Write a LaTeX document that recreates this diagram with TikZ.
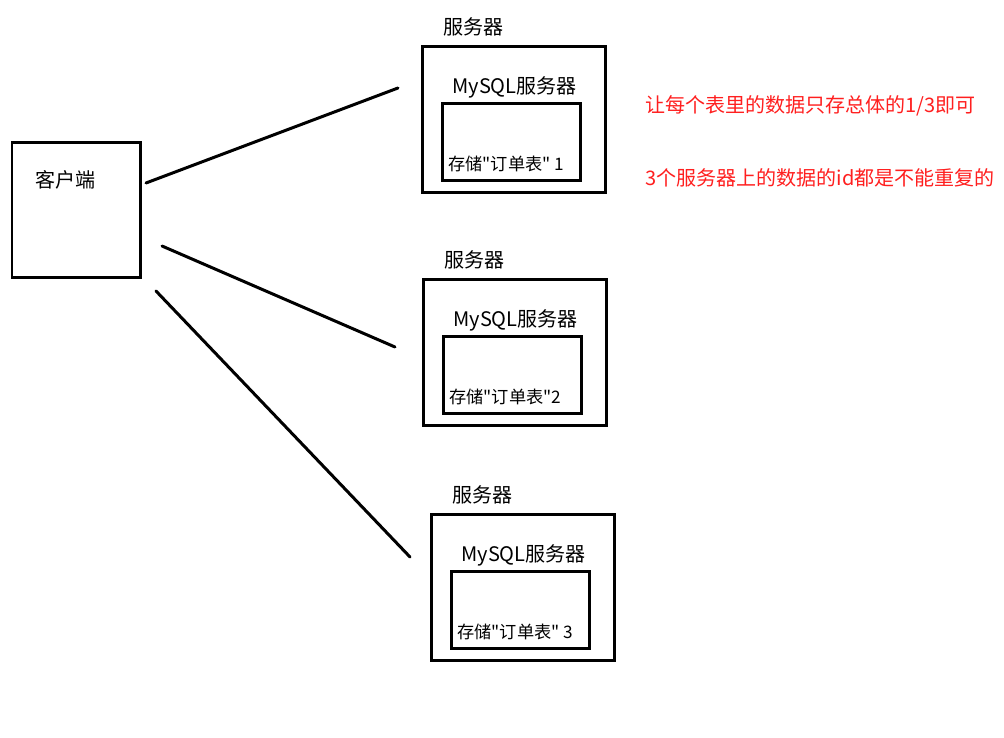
\documentclass[tikz,border=0pt]{standalone}
\usepackage{fontspec}
\newfontfamily\cjkfont{Noto Sans CJK SC}
\usetikzlibrary{fit}
\definecolor{notered}{rgb}{1.0, 0.12, 0.12}

\begin{document}
\begin{tikzpicture}[x=0.02cm,y=-0.02cm,
    box/.style={draw, line width=0.06cm, inner sep=0pt},
    link/.style={line width=0.06cm, line cap=round},
    txt/.style={inner sep=0pt, font=\cjkfont\fontsize{11.4pt}{13pt}\selectfont},
    tabletxt/.style={inner sep=0pt, font=\cjkfont\fontsize{9.8pt}{12pt}\selectfont}]
  \useasboundingbox (0,0) rectangle (1004,737);

  % client
  \node (client) [box, fit={(12,142) (140,277)}] {};
  \node (clientlabel) [txt, anchor=west] at (35,180) {客户端};

  % the three servers, each with one MySQL instance
  \foreach \n/\x/\y/\tag in {1/422/46/{\ 1}, 2/423/279/2, 3/431/514/{\ 3}}
  {
    \node (srv\n) [box, fit={(\x,\y) (\x+183,\y+146)}] {};
    \node (db\n) [box, fit={(\x+20,\y+57) (\x+158,\y+134)}] {};
    \node (srvlabel\n) [txt, anchor=west] at (\x+21,\y-19) {服务器};
    \node (dblabel\n) [txt, anchor=west] at (\x+30,\y+41) {MySQL服务器};
    \node (tbl\n) [tabletxt, anchor=west] at (\x+26,\y+118) {存储"订单表"\tag};
  }

  % lines from the client
  \coordinate (from1) at (146,183);
  \coordinate (from2) at (162,246);
  \coordinate (from3) at (156,291);
  \coordinate (to1) at (398,88);
  \coordinate (to2) at (395,347);
  \coordinate (to3) at (410,557);
  \foreach \n in {1,2,3}
    \draw [link] (from\n) -- (to\n);

  % notes
  \node (note1) [txt, text=notered, anchor=west] at (645,106) {让每个表里的数据只存总体的1/3即可};
  \node (note2) [txt, text=notered, anchor=west] at (645,178) {3个服务器上的数据的id都是不能重复的};
\end{tikzpicture}
\end{document}
